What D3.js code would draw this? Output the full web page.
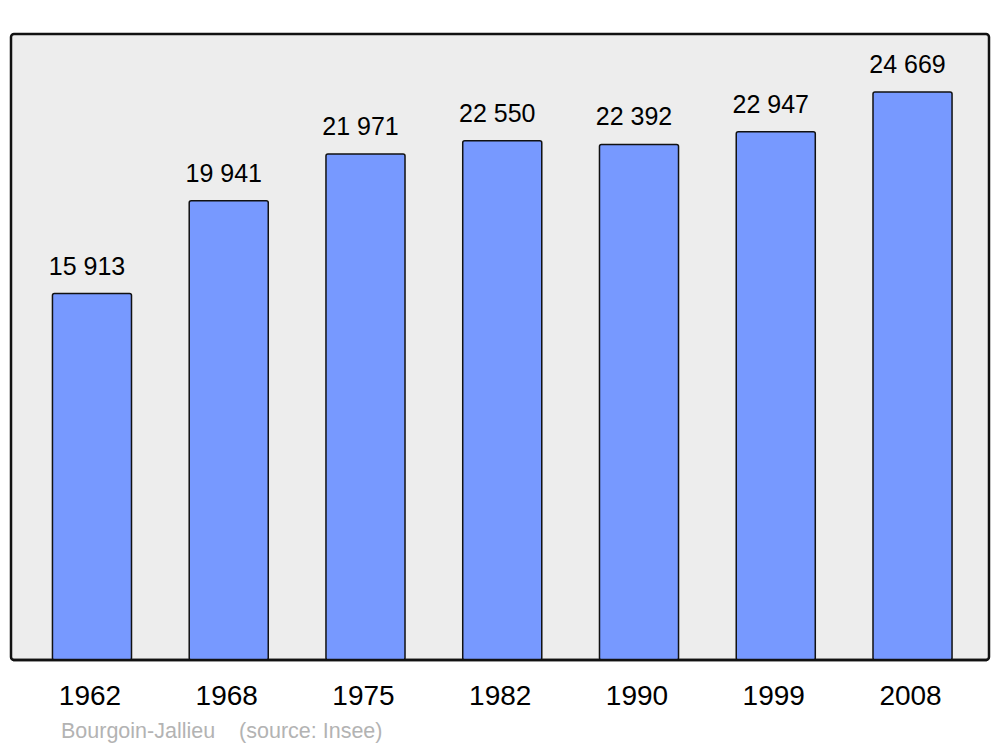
<!DOCTYPE html>
<html><head><meta charset="utf-8">
<script src="https://cdn.jsdelivr.net/npm/d3@7"></script>
<style>body{margin:0;background:#fff}svg{display:block}text{font-family:"Liberation Sans",Arial,sans-serif}</style>
</head><body>
<script>
const years = ["1962","1968","1975","1982","1990","1999","2008"];
const population = [15913,19941,21971,22550,22392,22947,24669];
const labels = ["15 913","19 941","21 971","22 550","22 392","22 947","24 669"];
const caption = "Bourgoin-Jallieu    (source: Insee)";

const W=1000,H=747;
const svg=d3.select("body").append("svg").attr("width",W).attr("height",H);
const panel={x:11,y:34,w:978,h:626};
svg.append("rect").attr("x",panel.x).attr("y",panel.y).attr("width",panel.w).attr("height",panel.h)
  .attr("rx",3).attr("fill","#ededed").attr("stroke","#111").attr("stroke-width",2.5);

const x=d3.scaleBand().domain(years).range([23.6,980.9]).paddingInner(0.422).paddingOuter(0.211);
const y=d3.scaleLinear().domain([0,27188]).range([660,34]);

svg.selectAll("rect.bar").data(years).join("rect").attr("class","bar")
  .attr("x",d=>x(d)).attr("width",x.bandwidth())
  .attr("y",(d,i)=>y(population[i])).attr("height",(d,i)=>660-y(population[i]))
  .attr("rx",2).attr("fill","#7799ff").attr("stroke","#111").attr("stroke-width",1.5);

// redraw bottom border over bars
svg.append("line").attr("x1",panel.x+2).attr("x2",panel.x+panel.w-2).attr("y1",660).attr("y2",660)
  .attr("stroke","#111").attr("stroke-width",2.5);

svg.selectAll("text.val").data(years).join("text").attr("class","val")
  .attr("x",d=>x(d)+x.bandwidth()/2-5).attr("y",(d,i)=>y(population[i])-19)
  .attr("text-anchor","middle").attr("font-size",25).attr("fill","#000")
  .text((d,i)=>labels[i]);

const xAxis=svg.append("g").attr("transform","translate(-2,660)")
  .call(d3.axisBottom(x).tickSize(0).tickPadding(0));
xAxis.select(".domain").remove();
xAxis.selectAll("text").attr("dy",null).attr("y",45).attr("font-size",28).attr("fill","#000")
  .style("font-family",'"Liberation Sans",Arial,sans-serif');

svg.append("text").attr("x",61).attr("y",738).attr("font-size",21.5).attr("fill","#b3b3b3")
  .attr("xml:space","preserve").style("white-space","pre").text(caption);
</script>
</body></html>
